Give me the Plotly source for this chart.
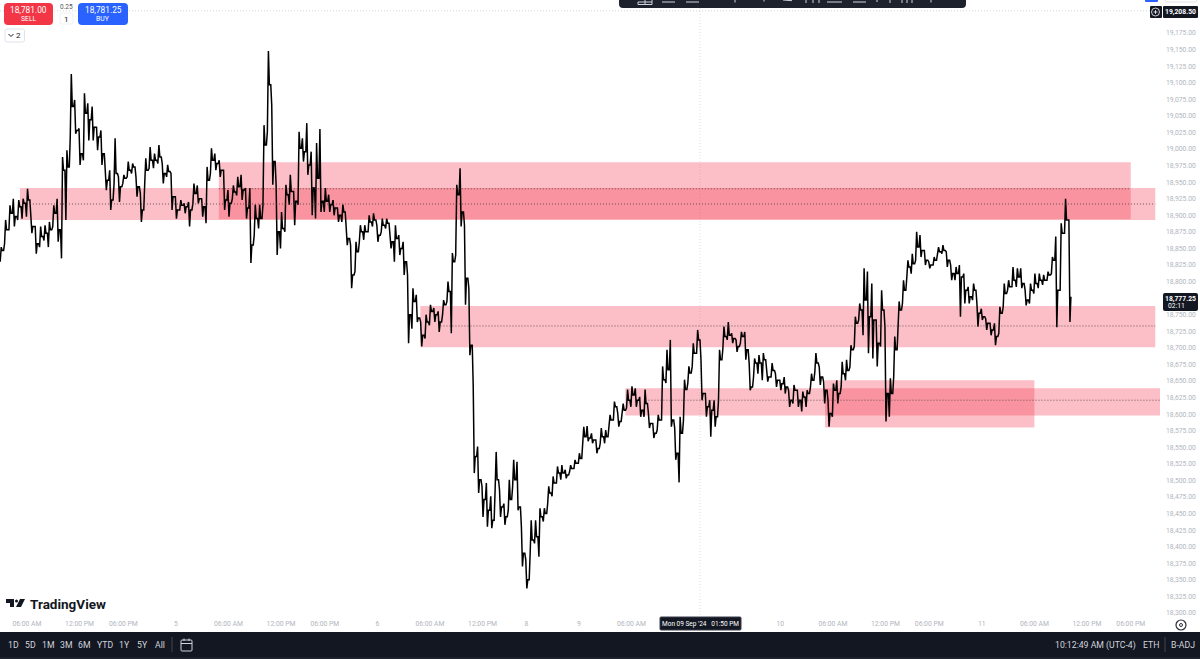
import numpy as np
import plotly.graph_objects as go

# 30 minute bars, left to right
highs = [18852,18893,18915,18925,18923,18925,18940,18895,18883,18883,18885,18890,18915,18925,18988,18998,19113,19074,19031,19084,
         19069,19064,19033,19028,18971,18968,19016,18958,18961,18981,18978,18958,18933,18986,19003,18993,19006,18978,18976,18963,
         18928,18923,18918,18920,18948,18945,18925,18973,19001,18993,18983,18968,18938,18945,18958,18961,
         18941,18941,18916,18916,19036,19148,19066,18946,18905,18946,18961,18936,19026,19016,19039,18996,19009,19030,18941,18931,
         18923,18911,18916,18885,18855,18860,18885,18885,18900,18903,18885,18895,18895,18873,18885,18870,18860,18810,18790,18780,
         18739,18750,18765,18760,18755,18772,18800,18843,18946,18971,18885,18790,
         18642,18551,18491,18496,18476,18543,18486,18465,18501,18531,18528,18430,18380,18440,18440,18458,18458,18491,18506,18521,
         18523,18516,18523,18531,18541,18581,18582,18571,18561,18579,18576,18599,18619,18601,18616,18637,18642,18639,18626,18637,
         18601,18586,18599,18672,18697,18712,18579,18596,18652,18672,18707,18727,
         18682,18631,18621,18621,18697,18732,18739,18722,18712,18724,18724,18677,18684,18689,18692,18666,18677,18661,18651,18656,
         18636,18644,18636,18634,18636,18661,18692,18671,18649,18621,18646,18651,18679,18682,18704,18747,18767,18820,18815,18797,
         18742,18787,18732,18654,18717,18770,18802,18832,
         18842,18875,18870,18847,18830,18837,18852,18855,18845,18825,18822,18825,18812,18792,18797,18767,18759,18744,18737,18737,
         18762,18797,18802,18822,18820,18820,18787,18797,18812,18812,18810,18815,18837,18868,18888,18925,18893]
lows = [18830,18857,18878,18883,18893,18895,18898,18873,18842,18852,18862,18852,18883,18860,18835,18893,19018,19023,18976,18983,
        19013,19013,18998,18976,18938,18908,18948,18920,18948,18958,18963,18928,18890,18948,18971,18971,18978,18948,18958,18908,
        18895,18908,18903,18883,18918,18918,18898,18888,18963,18968,18958,18908,18898,18925,18930,18923,
        18895,18828,18870,18880,18916,19026,18946,18840,18850,18875,18916,18885,18916,18981,18961,18900,18895,18905,18905,18905,
        18900,18890,18890,18855,18790,18815,18860,18863,18875,18883,18860,18875,18880,18850,18830,18840,18810,18707,18729,18739,
        18702,18714,18734,18739,18724,18750,18770,18722,18840,18883,18765,18689,
        18511,18481,18445,18430,18428,18486,18445,18433,18455,18491,18455,18370,18337,18390,18405,18385,18438,18465,18476,18496,
        18501,18503,18513,18518,18526,18551,18559,18556,18541,18556,18556,18579,18591,18581,18599,18609,18611,18611,18596,18596,
        18579,18564,18576,18591,18647,18581,18531,18497,18591,18647,18672,18692,
        18621,18596,18566,18581,18621,18699,18712,18707,18694,18707,18682,18636,18656,18661,18651,18649,18656,18641,18636,18631,
        18611,18616,18611,18604,18611,18641,18664,18644,18616,18581,18596,18616,18641,18651,18671,18702,18742,18719,18692,18684,
        18672,18702,18589,18596,18656,18742,18767,18807,
        18812,18832,18837,18825,18820,18825,18840,18842,18822,18802,18802,18747,18767,18767,18772,18732,18742,18727,18719,18704,
        18722,18762,18787,18792,18792,18790,18764,18767,18782,18790,18795,18802,18812,18731,18787,18873,18739]
closes = [18847,18878,18903,18898,18913,18918,18923,18883,18857,18868,18873,18878,18903,18878,18968,18973,19064,19028,18993,19054,
          19044,19033,19018,18993,18953,18923,18963,18943,18956,18968,18973,18943,18908,18968,18983,18983,18988,18963,18966,18928,
          18908,18915,18913,18908,18933,18925,18913,18953,18983,18978,18968,18923,18918,18935,18943,18938,
          18911,18855,18895,18895,19006,19097,18981,18875,18880,18931,18936,18921,19001,18996,18976,18941,18956,18921,18921,18916,
          18911,18900,18905,18865,18810,18845,18875,18875,18890,18893,18870,18885,18888,18860,18865,18850,18830,18750,18770,18745,
          18719,18739,18755,18750,18739,18765,18785,18830,18931,18905,18805,18704,
          18536,18501,18471,18455,18440,18501,18460,18445,18471,18501,18460,18390,18350,18410,18415,18445,18450,18481,18496,18511,
          18511,18508,18518,18526,18533,18566,18564,18561,18548,18566,18566,18591,18611,18589,18606,18621,18629,18621,18606,18616,
          18586,18571,18591,18652,18667,18591,18541,18571,18637,18662,18692,18712,
          18631,18611,18606,18596,18682,18717,18719,18714,18702,18717,18697,18641,18677,18677,18682,18656,18666,18651,18646,18641,
          18621,18636,18621,18626,18631,18651,18677,18656,18636,18601,18636,18631,18661,18666,18697,18737,18757,18772,18747,18742,
          18707,18757,18631,18631,18697,18757,18787,18822,
          18827,18852,18847,18832,18825,18832,18845,18847,18832,18812,18812,18807,18787,18777,18787,18752,18747,18737,18727,18717,
          18752,18782,18792,18802,18807,18797,18772,18787,18797,18802,18802,18810,18832,18787,18873,18893,18777]

# session hours from the left edge of the chart (maintenance hour left out like the TV time scale)
# 12:00 PM and 06:00 PM of the 9th sit under the crosshair date label so they are not listed
tick_hours = [3,9,14,20,26,32,37,43,49,55,60,66,72,89,95,101,106,112,118,124,129]
tick_text = ["06:00 AM","12:00 PM","06:00 PM","5","06:00 AM","12:00 PM","06:00 PM","6","06:00 AM","12:00 PM","8","9",
             "06:00 AM","10","06:00 AM","12:00 PM","06:00 PM","11","06:00 AM","12:00 PM","06:00 PM"]
# 18,775 and 19,200 are covered by the price labels
price_ticks = [p for p in range(18300, 19176, 25) if p != 18775]

# supply/demand zones
zone_start = [2.2, 24.9, 47.9, 71.3, 94.1]
zone_end = [131.8, 129.0, 131.8, 132.4, 118.0]
zone_top = [18941, 18980, 18763, 18639, 18651]
zone_bottom = [18893, 18894, 18701, 18598, 18580]
level_start = [3.0, 24.9, 50.2, 73.6]
level_end = [131.8, 129.0, 131.8, 132.4]
level_price = [18917, 18940, 18733, 18621]

crosshair_hour = 79.83
high_mark = 19208.5
last_price = 18777.25

range_buttons = ["1D","5D","1M","3M","6M","YTD","1Y","5Y","All"]
range_button_x = [13,30,48,66,84,105,125,142,160]

DARK = "#131722"
DOTS = "1px,2px"
W, PH = 1160, 618  # plot area in pixels

def px(x):
    return x / W

def py(y):
    return 1 - y / PH

def rounded(x0, y0, x1, y1, r):
    a, b, c, d = px(x0), py(y0), px(x1), py(y1)
    rx, ry = r / W, r / PH
    return (f"M{a+rx},{b} L{c-rx},{b} Q{c},{b} {c},{b-ry} L{c},{d+ry} Q{c},{d} {c-rx},{d} "
            f"L{a+rx},{d} Q{a},{d} {a},{d+ry} L{a},{b-ry} Q{a},{b} {a+rx},{b} Z")

def box(x0, y0, x1, y1, fill, line=None, r=0):
    return dict(type="path", xref="paper", yref="paper", path=rounded(x0, y0, x1, y1, r), fillcolor=fill,
                line=dict(color=line or fill, width=1 if line else 0), layer="above")

def seg(x0, y0, x1, y1, color="#d1d4dc", width=1, dash="solid"):
    return dict(type="line", xref="paper", yref="paper", x0=px(x0), y0=py(y0), x1=px(x1), y1=py(y1),
                line=dict(color=color, width=width, dash=dash), layer="above")

def label(x, y, text, size=8, color="#ffffff", anchor="center", font="Roboto", bold=False):
    if bold:
        text = f"<b>{text}</b>"
    return dict(xref="paper", yref="paper", x=px(x), y=py(y), text=text, showarrow=False, xanchor=anchor, yanchor="middle",
                font=dict(size=size, color=color, family=font), borderpad=0)

# walk each bar open -> low/high -> close, one line like the packed bars on the screenshot
opens = [18840] + closes[:-1]
line_x, line_y = [], []
for i, (o, h, l, c) in enumerate(zip(opens, highs, lows, closes)):
    t = i * 0.5
    first, second = (l, h) if c >= o else (h, l)
    line_x += [t - 0.17, t - 0.06, t + 0.06, t + 0.17]
    line_y += [o, first, second, c]

fig = go.Figure(go.Scatter(x=np.array(line_x), y=line_y, mode="lines", line=dict(color="#000000", width=1.5),
                           hoverinfo="skip", showlegend=False))

shapes = []
for x0, x1, top, bottom in zip(zone_start, zone_end, zone_top, zone_bottom):
    shapes.append(dict(type="rect", x0=x0, x1=x1, y0=bottom, y1=top, fillcolor="rgba(245,50,75,0.31)",
                       line_width=0, layer="below"))
for x0, x1, level in zip(level_start, level_end, level_price):
    shapes.append(dict(type="line", x0=x0, x1=x1, y0=level, y1=level, line=dict(color="#4a3a3c", width=0.8, dash=DOTS)))

shapes.append(dict(type="line", xref="paper", x0=0, x1=1, y0=high_mark, y1=high_mark,
                   line=dict(color="#c8cbd2", width=0.8, dash=DOTS), layer="below"))
shapes.append(dict(type="line", yref="paper", x0=crosshair_hour, x1=crosshair_hour, y0=0, y1=1,
                   line=dict(color="#d5d7dc", width=0.8, dash=DOTS), layer="below"))

# order buttons
shapes += [box(4, 3, 53, 25, "#f23645", r=4), box(78, 3, 128, 25, "#2962ff", r=4),
           box(60, 13, 73, 24, "#ffffff", line="#eef0f3", r=2), box(5, 29, 24.5, 42, "#ffffff", line="#e0e3eb", r=2),
           seg(8.5, 34, 11, 36.5, "#131722", 1), seg(11, 36.5, 13.5, 34, "#131722", 1)]

# toolbar cut off at the top, and the bits of the header on the right
shapes += [box(619, -8, 966, 8, "#1e222d", r=4), box(1145, -6, 1158, 2, "#2962ff", r=1),
           box(1165, -6, 1197, 2, "#ffffff", line="#e0e3eb", r=2)]
shapes += [seg(638, 2, 652, 2), seg(638, 4.5, 652, 4.5), seg(638, 2, 638, 4.5), seg(645, 0, 645, 4.5), seg(652, 0, 652, 4.5),
           seg(662, 2, 675, 2), seg(686, 2, 699, 2), seg(735, 0, 735, 2.5), seg(764, 0, 764, 1.5), seg(783, 0, 792, 0.7),
           seg(806, 0, 806, 3), seg(813, 0, 813, 3), seg(819, 0, 819, 3), seg(827, 2, 842, 2), seg(853, 2, 866, 2),
           seg(877, 0, 877, 2), seg(890, 0, 890, 3), seg(902, 0, 902, 3), seg(907, 0, 907, 3), seg(912, 0, 912, 3), seg(931, 0, 931, 2.5)]

# last price and high markers
shapes += [box(1150, 6, 1162, 18, DARK, r=1), box(1163, 6, 1198, 18, DARK, r=1), box(1163, 293, 1198, 311, DARK, r=2)]
shapes.append(dict(type="circle", xref="paper", yref="paper", x0=px(1151.5), x1=px(1159.5), y0=py(16), y1=py(8),
                   line=dict(color="#ffffff", width=0.8), layer="above"))
shapes += [seg(1153.5, 12, 1157.5, 12, "#ffffff", 0.8), seg(1155.5, 10, 1155.5, 14, "#ffffff", 0.8)]

# crosshair date label
shapes.append(box(660, 617, 741, 630, DARK, line="#3a3f4b", r=1))

# settings icon in the corner
shapes.append(dict(type="circle", xref="paper", yref="paper", x0=px(1176), x1=px(1186), y0=py(630), y1=py(620),
                   line=dict(color="#2a2e39", width=1.2), layer="above"))
shapes.append(dict(type="circle", xref="paper", yref="paper", x0=px(1179.5), x1=px(1182.5), y0=py(626.5), y1=py(623.5),
                   line=dict(color="#2a2e39", width=1), layer="above"))

# TradingView logo
logo = (f"M{px(6)},{py(599)} L{px(14)},{py(599)} L{px(14)},{py(607)} L{px(10)},{py(607)} L{px(10)},{py(603)} L{px(6)},{py(603)} Z "
        f"M{px(20)},{py(599)} L{px(25)},{py(599)} L{px(21)},{py(607)} L{px(16)},{py(607)} Z")
shapes.append(dict(type="path", xref="paper", yref="paper", path=logo, fillcolor=DARK, line_width=0, layer="above"))
shapes.append(dict(type="circle", xref="paper", yref="paper", x0=px(15), x1=px(18), y0=py(602.5), y1=py(599.5),
                   fillcolor=DARK, line_width=0, layer="above"))

# bottom bar
shapes += [box(-1, 632, 1201, 660, DARK), box(-1, 657, 1201, 660, "#1e222d"), seg(172, 637, 172, 652, "#434651", 1), seg(1165, 637, 1165, 652, "#434651", 1)]
shapes.append(box(181, 640, 192, 651, DARK, line="#d1d4dc", r=1))
shapes += [seg(181, 643.5, 192, 643.5), seg(184, 638.5, 184, 641), seg(189, 638.5, 189, 641)]

annotations = [
    label(28.5, 10, "18,781.00", 8.3), label(28.5, 19.5, "SELL", 6.8),
    label(103, 10, "18,781.25", 8.3), label(103, 19.5, "BUY", 6.8),
    label(66, 7, "0.25", 6.5, "#50535e"), label(66, 19, "1", 8, "#131722"), label(18.5, 35.5, "2", 8, "#131722"),
    label(1180.5, 12, "19,208.50", 6.8, bold=True),
    label(1180.5, 298.5, "18,777.25", 6.8, bold=True), label(1167, 306, "02:11", 6.8, anchor="left"),
    label(700.5, 624, "Mon 09 Sep '24&nbsp;&nbsp;&nbsp;01:50 PM", 6.5),
    label(29, 603.5, "TradingView", 13.5, DARK, anchor="left", bold=True),
    label(1095, 645, "10:12:49 AM (UTC-4)", 8.7, "#d1d4dc"), label(1150.5, 645, "ETH", 8.7, "#d1d4dc"),
    label(1183, 645, "B-ADJ", 8.7, "#d1d4dc"),
]
for name, x in zip(range_buttons, range_button_x):
    annotations.append(label(x, 645, name, 8.7, "#d1d4dc"))

fig.update_layout(
    width=1200, height=659, margin=dict(l=0, r=40, t=0, b=41), autosize=False,
    paper_bgcolor="#ffffff", plot_bgcolor="#ffffff", showlegend=False,
    shapes=shapes, annotations=annotations,
    font=dict(family="Roboto", color="#b2b5be", size=8),
    xaxis=dict(range=[-0.08, 132.34], tickmode="array", tickvals=tick_hours, ticktext=tick_text, tickangle=0,
               showgrid=False, zeroline=False, showline=False, ticks="", tickfont=dict(size=6.8, color="#b2b5be")),
    yaxis=dict(range=[18292.4, 19224.8], side="right", tickmode="array", tickvals=price_ticks,
               ticktext=[f"{p:,.2f}" for p in price_ticks], showgrid=False, zeroline=False, showline=False, ticks="",
               ticklabelstandoff=5, tickfont=dict(size=6.8, color="#b2b5be")),
)

fig.write_html("out.html", config=dict(displayModeBar=False),
               post_script="document.body.style.margin='0';document.body.style.overflow='hidden';")
